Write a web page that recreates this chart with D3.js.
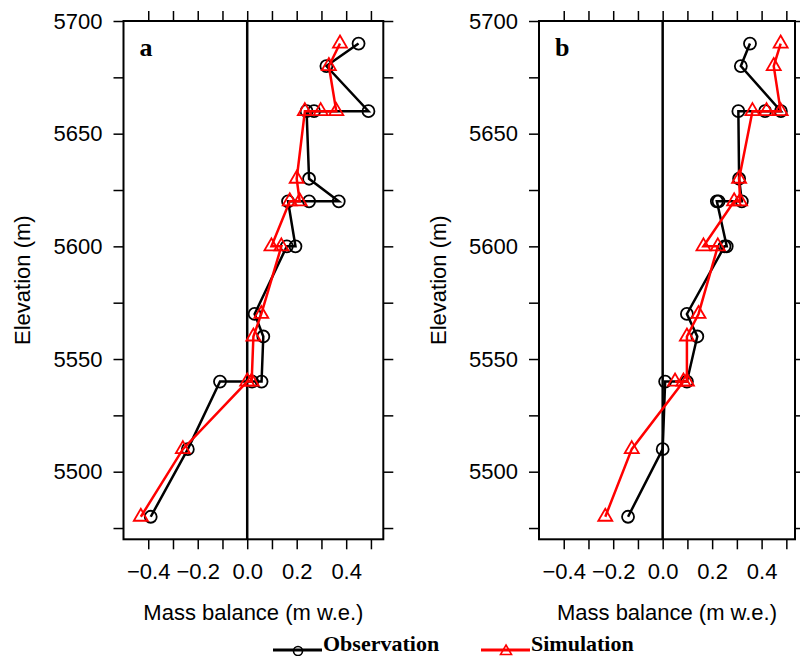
<!DOCTYPE html>
<html>
<head>
<meta charset="utf-8">
<script src="https://cdn.jsdelivr.net/npm/d3@7"></script>
<style>
  body { margin: 0; background: #fff; }
  svg { display: block; }
</style>
</head>
<body>
<div id="chart"></div>
<script>
// data: [mass balance (m w.e.), elevation (m)] in drawing order
const obsA = [[0.45,5690],[0.32,5680],[0.49,5660],[0.27,5660],[0.24,5660],[0.25,5630],[0.37,5620],[0.25,5620],[0.165,5620],
  [0.195,5600],[0.16,5600],[0.03,5570],[0.065,5560],[0.058,5540],[0.02,5540],[-0.11,5540],[-0.24,5510],[-0.39,5480]];
const simA = [[0.375,5690],[0.33,5680],[0.36,5660],[0.297,5660],[0.233,5660],[0.2,5630],[0.212,5620],[0.172,5620],
  [0.098,5600],[0.138,5600],[0.057,5570],[0.025,5560],[0.018,5540],[0.0,5540],[-0.26,5510],[-0.43,5480]];
const obsB = [[0.353,5690],[0.316,5680],[0.478,5660],[0.414,5660],[0.306,5660],[0.309,5630],[0.32,5620],[0.226,5620],[0.219,5620],
  [0.259,5600],[0.25,5600],[0.098,5570],[0.14,5560],[0.098,5540],[0.01,5540],[0.0,5510],[-0.14,5480]];
const simB = [[0.477,5690],[0.449,5680],[0.477,5660],[0.42,5660],[0.363,5660],[0.309,5630],[0.313,5620],[0.289,5620],
  [0.165,5600],[0.223,5600],[0.145,5570],[0.098,5560],[0.098,5540],[0.05,5540],[0.084,5540],[-0.125,5510],[-0.232,5480]];

const elevLabels = [5500, 5550, 5600, 5650, 5700];
const elevTicks = d3.range(5475, 5701, 25);
const mbLabels = [-0.4, -0.2, 0, 0.2, 0.4];
const mbTicks = [-0.4, -0.3, -0.2, -0.1, 0, 0.1, 0.2, 0.3, 0.4, 0.5];
const panelNames = ['a', 'b'];
const legendNames = ['Observation', 'Simulation'];

const width = 800, height = 656;
const sans = "'Liberation Sans', Arial, sans-serif";
const serif = "'Liberation Serif', 'Times New Roman', serif";

const svg = d3.select('#chart').append('svg')
  .attr('width', width).attr('height', height);

const panels = [
  { name: panelNames[0], obs: obsA, sim: simA, x0: 123.5, x1: 383.3, xmax: 0.55, ytitle: 24 },
  { name: panelNames[1], obs: obsB, sim: simB, x0: 539, x1: 795, xmax: 0.535, ytitle: 440 }
];

const plotTop = 21, plotBottom = 539.3;
const fmt = v => (v < 0 ? '\u2212' : '') + Math.abs(v).toFixed(1);

panels.forEach(p => {
  const x = d3.scaleLinear().domain([-0.5, p.xmax]).range([p.x0, p.x1]);
  const y = d3.scaleLinear().domain([5470, 5700]).range([plotBottom, plotTop]);
  const g = svg.append('g');

  // axes with outward ticks on all sides
  const left = g.append('g').attr('transform', `translate(${p.x0},0)`)
    .call(d3.axisLeft(y).tickValues(elevTicks).tickSize(10).tickPadding(11)
      .tickFormat(d => elevLabels.includes(d) ? d : ''));
  const right = g.append('g').attr('transform', `translate(${p.x1},0)`)
    .call(d3.axisRight(y).tickValues(elevTicks).tickSize(10).tickFormat(''));
  const bot = g.append('g').attr('transform', `translate(0,${plotBottom})`)
    .call(d3.axisBottom(x).tickValues(mbTicks).tickSize(10).tickPadding(14)
      .tickFormat(d => mbLabels.some(v => Math.abs(v - d) < 1e-9) ? fmt(d) : ''));
  const tp = g.append('g').attr('transform', `translate(0,${plotTop})`)
    .call(d3.axisTop(x).tickValues(mbTicks).tickSize(10).tickFormat(''));

  [left, right, bot, tp].forEach(a => {
    a.select('.domain').remove();
    a.selectAll('line').attr('stroke', '#000').attr('stroke-width', 1.5);
    a.selectAll('text').attr('font-family', sans).attr('font-size', 22).attr('fill', '#000');
  });

  // frame and zero line
  g.append('rect')
    .attr('x', p.x0).attr('y', plotTop)
    .attr('width', p.x1 - p.x0).attr('height', plotBottom - plotTop)
    .attr('fill', 'none').attr('stroke', '#000').attr('stroke-width', 2);
  g.append('line')
    .attr('x1', x(0)).attr('x2', x(0)).attr('y1', plotTop).attr('y2', plotBottom)
    .attr('stroke', '#000').attr('stroke-width', 2.5);

  const line = d3.line().x(d => x(d[0])).y(d => y(d[1]));

  // observation
  g.append('path').datum(p.obs)
    .attr('d', line).attr('fill', 'none')
    .attr('stroke', '#000').attr('stroke-width', 2.5);
  g.selectAll('circle.obs').data(p.obs).enter().append('circle')
    .attr('class', 'obs')
    .attr('cx', d => x(d[0])).attr('cy', d => y(d[1])).attr('r', 6)
    .attr('fill', 'none').attr('stroke', '#000').attr('stroke-width', 1.8);

  // simulation
  g.append('path').datum(p.sim)
    .attr('d', line).attr('fill', 'none')
    .attr('stroke', '#ff0000').attr('stroke-width', 2.5);
  g.selectAll('path.sim').data(p.sim).enter().append('path')
    .attr('class', 'sim')
    .attr('transform', d => `translate(${x(d[0])},${y(d[1])})`)
    .attr('d', 'M0,-8L7,4L-7,4Z')
    .attr('fill', 'none').attr('stroke', '#ff0000').attr('stroke-width', 1.8);

  // panel letter
  g.append('text')
    .attr('x', p.x0 + 16).attr('y', 56)
    .attr('font-family', serif).attr('font-weight', 'bold').attr('font-size', 26)
    .text(p.name);

  // axis titles
  g.append('text')
    .attr('x', (p.x0 + p.x1) / 2).attr('y', 620)
    .attr('text-anchor', 'middle')
    .attr('font-family', sans).attr('font-size', 22)
    .text('Mass balance (m w.e.)');
  g.append('text')
    .attr('transform', `translate(${p.ytitle + 6},${(plotTop + plotBottom) / 2}) rotate(-90)`)
    .attr('text-anchor', 'middle')
    .attr('font-family', sans).attr('font-size', 22)
    .text('Elevation (m)');
});

// legend
const legend = svg.append('g');
const legItems = [
  { name: legendNames[0], color: '#000', x: 273, marker: 'circle' },
  { name: legendNames[1], color: '#ff0000', x: 481, marker: 'tri' }
];
legItems.forEach(it => {
  legend.append('line')
    .attr('x1', it.x).attr('x2', it.x + 49).attr('y1', 650).attr('y2', 650)
    .attr('stroke', it.color).attr('stroke-width', 3);
  if (it.marker === 'circle') {
    legend.append('circle').attr('cx', it.x + 25).attr('cy', 651).attr('r', 4.5)
      .attr('fill', 'none').attr('stroke', it.color).attr('stroke-width', 1.6);
  } else {
    legend.append('path').attr('transform', `translate(${it.x + 25},651)`)
      .attr('d', 'M0,-6L5.5,3.5L-5.5,3.5Z')
      .attr('fill', 'none').attr('stroke', it.color).attr('stroke-width', 1.6);
  }
  legend.append('text')
    .attr('x', it.x + 50).attr('y', 651)
    .attr('font-family', serif).attr('font-weight', 'bold').attr('font-size', 22)
    .text(it.name);
});
</script>
</body>
</html>
